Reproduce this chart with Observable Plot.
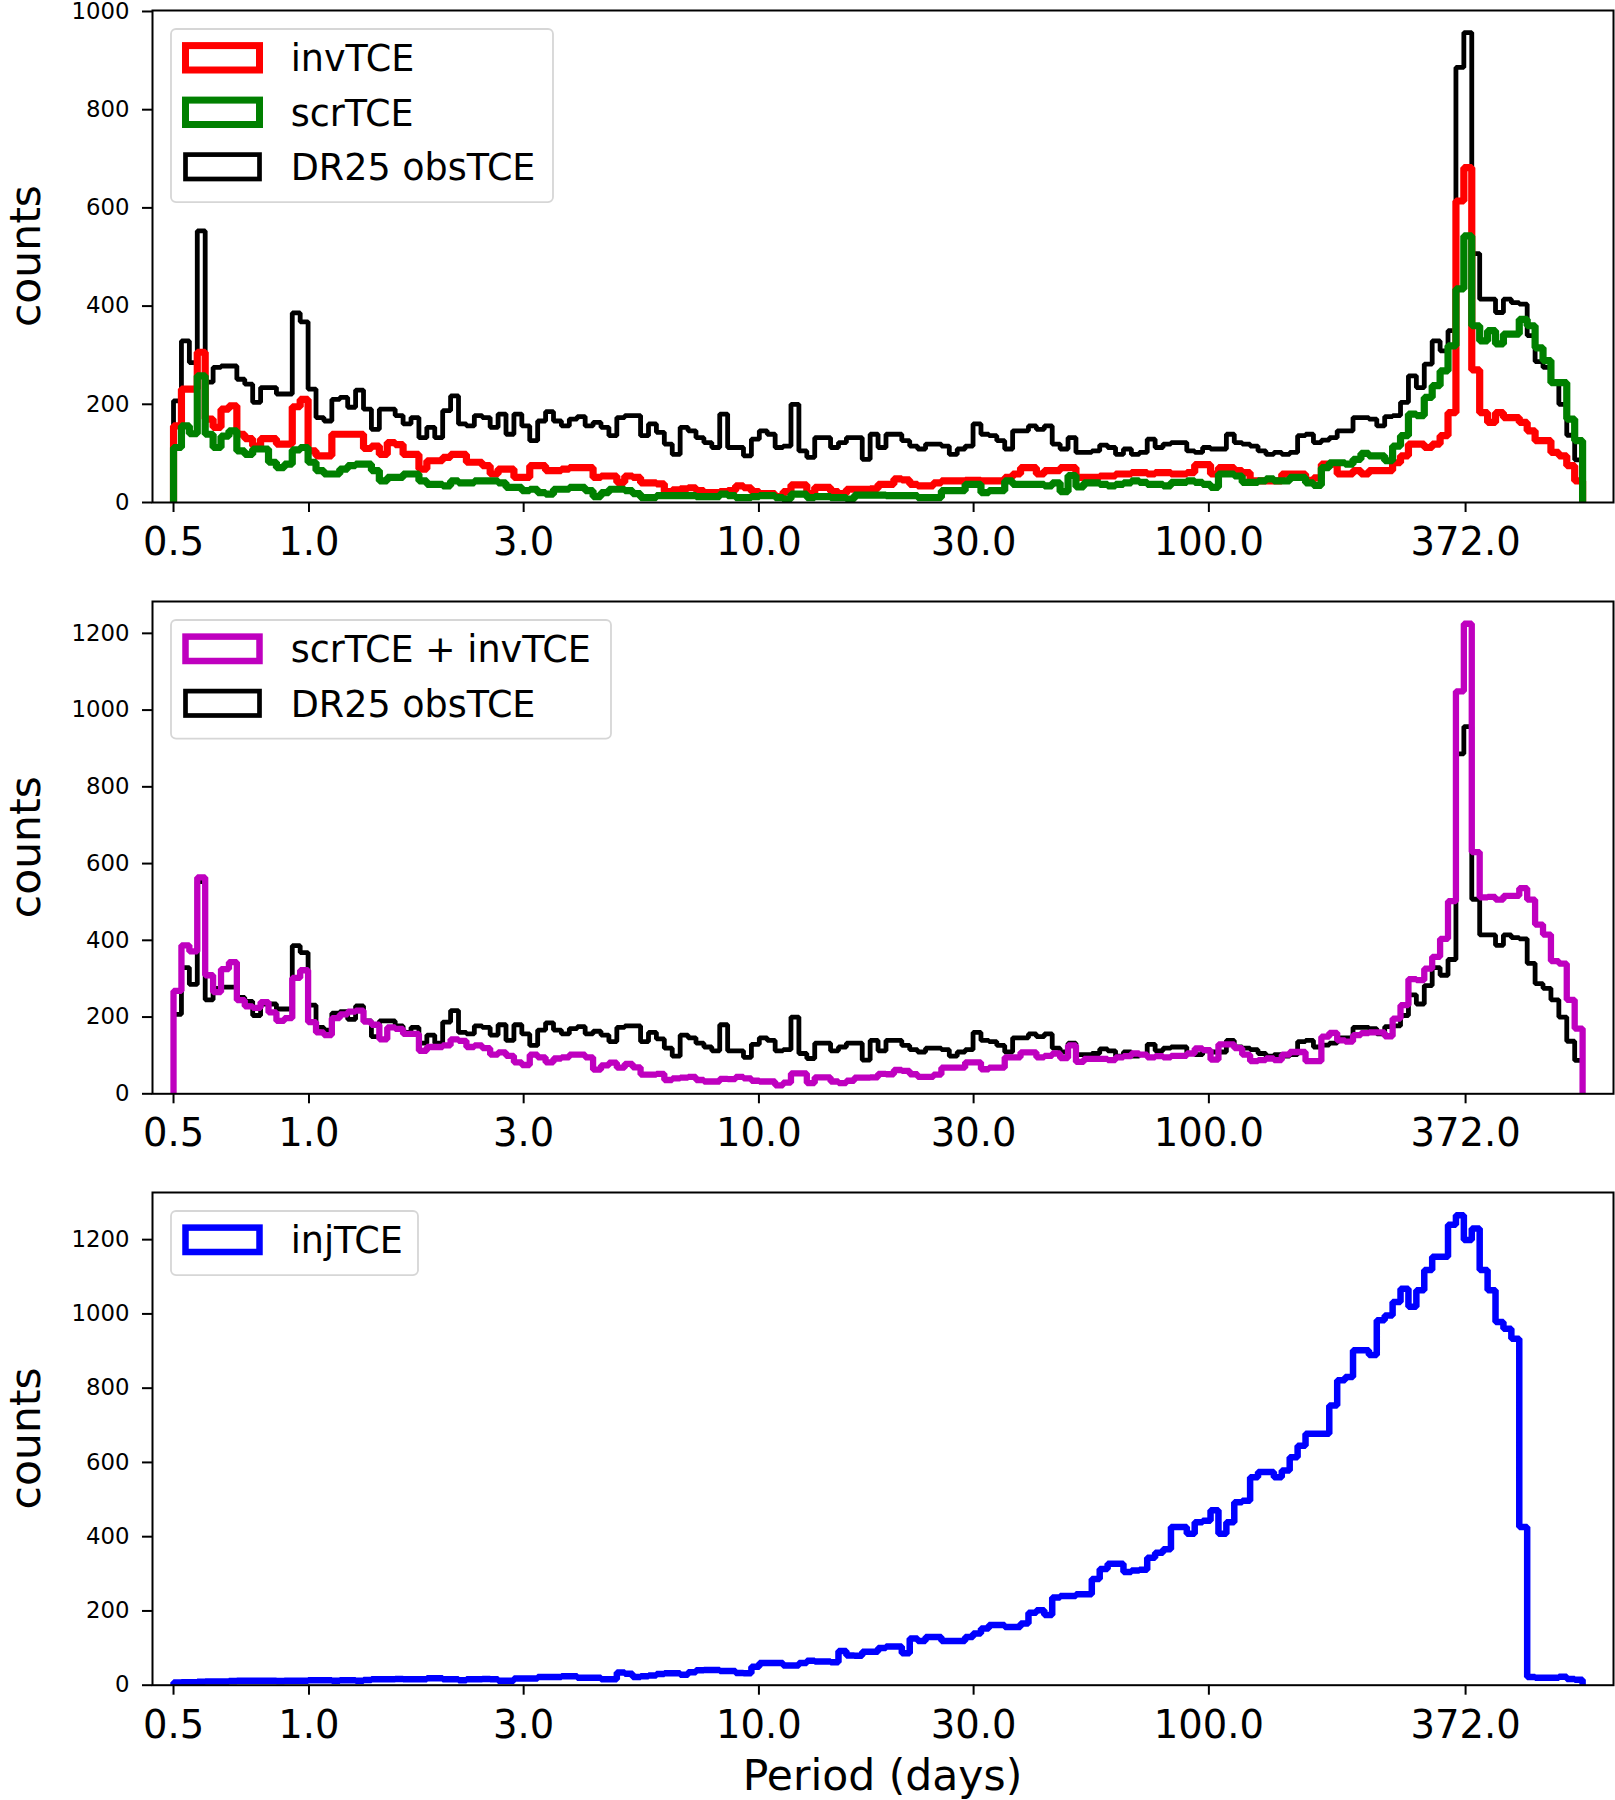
<!DOCTYPE html>
<html><head><meta charset="utf-8">
<script src="https://cdn.jsdelivr.net/npm/d3@7"></script>
<script src="https://cdn.jsdelivr.net/npm/@observablehq/plot@0.6"></script>
<style>
body{margin:0;background:#fff;}
#chart{width:1615px;}
#chart svg{display:block;font-family:"DejaVu Sans",sans-serif;}
</style></head><body><div id="chart"></div>
<script>
// Histogram binning (log-spaced bins in period)
const nBins = 178, periodLo = 0.5, periodHi = 677;
const xTicks = [0.5, 1, 3, 10, 30, 100, 372];
const yTicksTop = [0, 200, 400, 600, 800, 1000];
const yTicksMid = [0, 200, 400, 600, 800, 1000, 1200];
const yTicksBot = [0, 200, 400, 600, 800, 1000, 1200];

// DR25 obsTCE counts per bin
const obsTCE = [
207,329,285,553,245,275,278,278,251,241,
204,234,234,221,221,386,368,231,173,166,
210,214,194,229,190,149,190,190,177,160,
173,132,153,132,187,217,160,156,177,173,
153,180,139,180,156,126,166,185,166,156,
170,175,156,163,153,136,173,177,177,136,
160,143,119,98,153,146,132,122,112,180,
112,112,95,129,146,139,112,115,200,105,
92,132,132,112,122,132,132,88,139,112,
139,139,126,115,109,119,119,115,98,109,
115,160,139,136,126,109,146,146,156,149,
156,119,109,132,102,102,105,117,112,98,
109,98,102,129,112,119,122,122,105,102,
112,109,109,139,122,119,115,105,98,102,
98,102,136,139,122,127,132,146,146,173,
173,170,156,175,177,204,258,234,282,329,
309,350,886,957,507,414,414,387,414,407,
404,340,287,275,245,200,137,87];

// invTCE counts per bin
const invTCE = [
156,231,231,306,170,153,190,197,139,130,
115,130,130,119,119,195,210,105,95,95,
139,139,139,139,110,115,98,122,118,98,
98,68,85,85,92,98,98,82,82,75,
58,68,68,51,51,75,75,65,65,68,
71,71,71,51,54,54,41,54,51,40,
40,38,22,26,28,30,24,20,20,22,
24,34,30,22,18,18,12,22,36,36,
18,31,31,22,18,27,27,27,28,37,
37,48,46,37,34,34,40,44,44,44,
45,45,44,44,44,51,58,71,71,58,
65,65,71,71,51,51,51,54,54,58,
58,61,61,58,61,61,58,58,61,77,
77,58,71,71,65,61,44,44,44,44,
58,58,58,45,50,78,78,58,58,65,
58,65,65,65,81,95,119,119,112,119,
136,183,614,682,270,183,163,183,173,173,
163,146,126,126,102,95,75,44];

// scrTCE counts per bin
const scrTCE = [
112,156,140,258,139,112,135,146,105,98,
109,109,82,71,78,107,112,82,65,58,
58,68,75,78,78,65,44,51,51,58,
58,44,37,37,34,44,40,40,44,44,
44,40,31,31,24,27,20,17,27,27,
31,31,24,12,20,27,27,24,18,10,
10,14,14,14,14,14,12,12,12,17,
14,10,10,12,14,14,10,7,17,17,
10,12,12,10,10,7,15,15,15,15,
14,14,14,14,10,10,10,24,24,24,
37,37,20,24,24,44,37,37,37,37,
34,40,22,55,32,40,40,37,34,37,
40,44,41,37,37,34,41,41,44,41,
37,31,58,58,54,41,41,44,48,44,
44,51,51,40,35,71,81,81,78,88,
100,95,95,85,115,136,180,177,214,238,
268,319,435,543,360,329,350,323,343,343,
373,360,315,289,244,244,170,126];

// injTCE counts per bin
const injTCE = [
7,8,8,9,10,10,10,11,12,12,
12,12,12,11,12,12,12,13,13,13,
12,13,13,12,14,16,16,16,17,16,
16,16,19,19,16,16,13,16,16,17,
16,12,12,18,18,18,22,22,22,24,
24,20,20,20,16,16,34,31,22,24,
26,30,32,32,28,35,40,41,41,38,
38,33,32,50,60,60,60,53,53,60,
66,64,64,62,92,80,79,90,90,100,
104,104,86,126,119,130,130,119,119,119,
130,139,153,162,162,157,157,166,195,202,
189,236,240,240,245,245,286,313,327,327,
305,309,311,343,357,366,426,426,408,439,
443,471,408,439,493,497,560,574,574,560,
578,614,645,677,677,677,753,821,830,902,
902,889,983,996,1032,1068,1019,1064,1118,1154,
1154,1240,1266,1199,1230,1118,1064,978,960,933,
426,22,20,20,20,23,17,15];

// scrTCE + invTCE is the bin-wise sum of the two series above
const scrPlusInv = scrTCE.map((v, i) => v + invTCE[i]);

const edges = d3.range(nBins + 1).map(i => periodLo * Math.pow(periodHi / periodLo, i / nBins));

function stepPoints(vals) {
  const pts = [{x: edges[0], y: 0}];
  vals.forEach((v, i) => { pts.push({x: edges[i], y: v}, {x: edges[i + 1], y: v}); });
  pts.push({x: edges[vals.length], y: 0});
  return pts;
}

const FONT = "DejaVu Sans, sans-serif";

function panel({height, marginTop, marginBottom, yMax, yTicks, series, legend, xLabel}) {
  const svg = Plot.plot({
    width: 1615, height, marginLeft: 152, marginRight: 2, marginTop, marginBottom,
    style: {fontFamily: FONT, background: "white", overflow: "visible", color: "black"},
    x: {type: "log", domain: [0.449, 793]},
    y: {domain: [0, yMax]},
    marks: [
      ...series.map(s => Plot.line(stepPoints(s.values), {
        x: "x", y: "y", stroke: s.color, strokeWidth: s.width,
        strokeLinejoin: "miter", strokeLinecap: "butt"
      })),
      Plot.axisX({ticks: xTicks, tickSize: 10, strokeWidth: 2, text: null, label: null}),
      Plot.text(xTicks, {x: d => d, frameAnchor: "bottom", dy: 25, lineAnchor: "top",
        text: d => d.toFixed(1), fontSize: 38.5, fill: "black"}),
      Plot.axisY({ticks: yTicks, tickFormat: d => String(d), tickSize: 10, tickPadding: 13,
        fontSize: 22.8, strokeWidth: 2, label: null}),
      Plot.frame({stroke: "black", strokeWidth: 2})
    ]
  });
  const g = d3.select(svg);
  // y-axis label
  g.append("text")
    .attr("transform", `translate(40, ${(marginTop + height - marginBottom) / 2}) rotate(-90)`)
    .attr("text-anchor", "middle").attr("font-size", 42.5).attr("font-family", FONT)
    .attr("fill", "black").text("counts");
  // legend
  const top = marginTop + 19;
  const pitch = 54.5;
  const boxH = 28.8 + pitch * (legend.items.length - 1) + 35.3;
  const lg = g.append("g");
  lg.append("rect").attr("x", 171).attr("y", top).attr("width", legend.width).attr("height", boxH)
    .attr("rx", 5).attr("fill", "white").attr("fill-opacity", 0.8)
    .attr("stroke", "#d6d6d6").attr("stroke-width", 1.8);
  legend.items.forEach((it, k) => {
    const cy = top + 28.8 + k * pitch;
    lg.append("rect").attr("x", 185.5).attr("y", cy - 12.2).attr("width", 74).attr("height", 24.4)
      .attr("fill", "none").attr("stroke", it.color).attr("stroke-width", it.width);
    lg.append("text").attr("x", 290.7).attr("y", cy + 13.3).attr("font-size", 36.5)
      .attr("text-anchor", "start")
      .attr("font-family", FONT).attr("fill", "black").text(it.label);
  });
  if (xLabel) {
    g.append("text").attr("x", 882.5).attr("y", height - 10).attr("text-anchor", "middle")
      .attr("font-size", 42.5).attr("font-family", FONT).attr("fill", "black").text(xLabel);
  }
  return svg;
}

const C = {red: "#ff0000", green: "#008000", black: "#000000", magenta: "#bf00bf", blue: "#0000ff"};
const W = {red: 7.2, green: 7.2, black: 4.8, magenta: 6.3, blue: 6.5};

const chart = document.getElementById("chart");
chart.appendChild(panel({
  height: 590, marginTop: 10, marginBottom: 88, yMax: 1002, yTicks: yTicksTop,
  series: [
    {values: obsTCE, color: C.black, width: W.black},
    {values: invTCE, color: C.red, width: W.red},
    {values: scrTCE, color: C.green, width: W.green}
  ],
  legend: {width: 382, items: [
    {label: "invTCE", color: C.red, width: 7},
    {label: "scrTCE", color: C.green, width: 7},
    {label: "DR25 obsTCE", color: C.black, width: 4.7}
  ]}
}));
chart.appendChild(panel({
  height: 590, marginTop: 11, marginBottom: 86.7, yMax: 1283, yTicks: yTicksMid,
  series: [
    {values: obsTCE, color: C.black, width: W.black},
    {values: scrPlusInv, color: C.magenta, width: W.magenta}
  ],
  legend: {width: 440, items: [
    {label: "scrTCE + invTCE", color: C.magenta, width: 6.5},
    {label: "DR25 obsTCE", color: C.black, width: 4.7}
  ]}
}));
chart.appendChild(panel({
  height: 620, marginTop: 12, marginBottom: 115.3, yMax: 1327, yTicks: yTicksBot,
  series: [
    {values: injTCE, color: C.blue, width: W.blue}
  ],
  legend: {width: 247, items: [
    {label: "injTCE", color: C.blue, width: 6.5}
  ]},
  xLabel: "Period (days)"
}));
</script></body></html>
